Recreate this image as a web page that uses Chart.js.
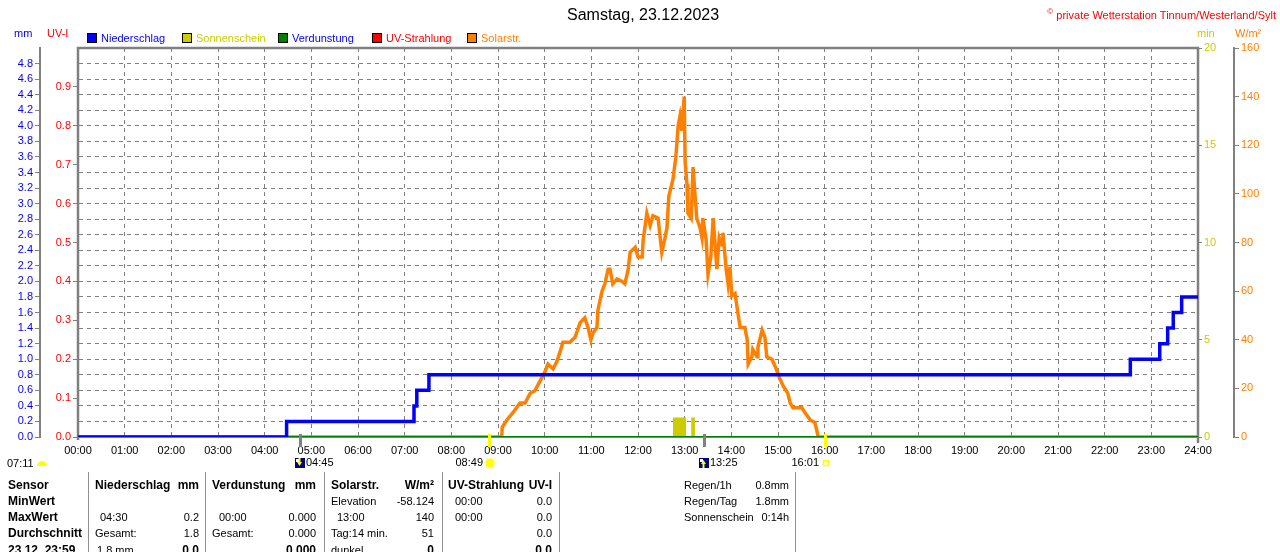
<!DOCTYPE html>
<html>
<head>
<meta charset="utf-8">
<title>Samstag, 23.12.2023</title>
<script src="https://cdn.jsdelivr.net/npm/chart.js@4.4.1/dist/chart.umd.min.js"></script>
<style>
  html, body { margin: 0; padding: 0; background: #fff; }
  #wrap { position: relative; width: 1280px; height: 552px; overflow: hidden;
          font-family: "Liberation Sans", Arial, sans-serif; font-size: 11px; color: #000; }
  #wrap canvas { position: absolute; left: 0; top: 0; }
  .t { position: absolute; white-space: nowrap; line-height: 12px; }
  .b { font-weight: bold; font-size: 12px; }
  .sep { position: absolute; top: 472px; height: 80px; width: 1px; background: #909090; }
  .box { position: absolute; top: 33px; width: 8px; height: 8px; border: 1px solid #000; }
</style>
</head>
<body>
<div id="wrap">
  <canvas id="chart" width="1280" height="552"></canvas>

  <div class="t" style="left:567px; top:6px; font-size:16px; line-height:18px;">Samstag, 23.12.2023</div>
  <div class="t" style="right:4px; top:6px; color:#ff0000;"><sup style="font-size:8px;">©</sup> private Wetterstation Tinnum/Westerland/Sylt</div>

  <div class="t" style="left:14px; top:27px; color:#0000ff;">mm</div>
  <div class="t" style="left:47px; top:27px; color:#ff0000;">UV-I</div>
  <div class="t" style="left:1197px; top:27px; color:#cccc00;">min</div>
  <div class="t" style="left:1235px; top:27px; color:#ff8000;">W/m²</div>

  <div class="box" style="left:87px; background:#0000ff;"></div>
  <div class="t" style="left:101px; top:32px; color:#0000ff;">Niederschlag</div>
  <div class="box" style="left:182px; background:#cccc00;"></div>
  <div class="t" style="left:196px; top:32px; color:#cccc00;">Sonnenschein</div>
  <div class="box" style="left:278px; background:#008000;"></div>
  <div class="t" style="left:292px; top:32px; color:#0000ff;">Verdunstung</div>
  <div class="box" style="left:372px; background:#ff0000;"></div>
  <div class="t" style="left:386px; top:32px; color:#ff0000;">UV-Strahlung</div>
  <div class="box" style="left:467px; background:#ff8000;"></div>
  <div class="t" style="left:481px; top:32px; color:#ff8000;">Solarstr.</div>

  <div class="t" style="left:7px; top:457px;">07:11</div>

  <div class="sep" style="left:88px;"></div>
  <div class="sep" style="left:205px;"></div>
  <div class="sep" style="left:324px;"></div>
  <div class="sep" style="left:442px;"></div>
  <div class="sep" style="left:559px;"></div>
  <div class="sep" style="left:795px;"></div>

  <!-- row 1 -->
  <div class="t b" style="left:8px; top:479px;">Sensor</div>
  <div class="t b" style="left:95px; top:479px;">Niederschlag</div>
  <div class="t b" style="right:1081px; top:479px;">mm</div>
  <div class="t b" style="left:212px; top:479px;">Verdunstung</div>
  <div class="t b" style="right:964px; top:479px;">mm</div>
  <div class="t b" style="left:331px; top:479px;">Solarstr.</div>
  <div class="t b" style="right:846px; top:479px;">W/m²</div>
  <div class="t b" style="left:448px; top:479px;">UV-Strahlung</div>
  <div class="t b" style="right:728px; top:479px;">UV-I</div>
  <div class="t" style="left:684px; top:479px;">Regen/1h</div>
  <div class="t" style="right:491px; top:479px;">0.8mm</div>
  <!-- row 2 -->
  <div class="t b" style="left:8px; top:495px;">MinWert</div>
  <div class="t" style="left:331px; top:495px;">Elevation</div>
  <div class="t" style="right:846px; top:495px;">-58.124</div>
  <div class="t" style="left:455px; top:495px;">00:00</div>
  <div class="t" style="right:728px; top:495px;">0.0</div>
  <div class="t" style="left:684px; top:495px;">Regen/Tag</div>
  <div class="t" style="right:491px; top:495px;">1.8mm</div>
  <!-- row 3 -->
  <div class="t b" style="left:8px; top:511px;">MaxWert</div>
  <div class="t" style="left:100px; top:511px;">04:30</div>
  <div class="t" style="right:1081px; top:511px;">0.2</div>
  <div class="t" style="left:219px; top:511px;">00:00</div>
  <div class="t" style="right:964px; top:511px;">0.000</div>
  <div class="t" style="left:337px; top:511px;">13:00</div>
  <div class="t" style="right:846px; top:511px;">140</div>
  <div class="t" style="left:455px; top:511px;">00:00</div>
  <div class="t" style="right:728px; top:511px;">0.0</div>
  <div class="t" style="left:684px; top:511px;">Sonnenschein</div>
  <div class="t" style="right:491px; top:511px;">0:14h</div>
  <!-- row 4 -->
  <div class="t b" style="left:8px; top:527px;">Durchschnitt</div>
  <div class="t" style="left:95px; top:527px;">Gesamt:</div>
  <div class="t" style="right:1081px; top:527px;">1.8</div>
  <div class="t" style="left:212px; top:527px;">Gesamt:</div>
  <div class="t" style="right:964px; top:527px;">0.000</div>
  <div class="t" style="left:331px; top:527px;">Tag:14 min.</div>
  <div class="t" style="right:846px; top:527px;">51</div>
  <div class="t" style="right:728px; top:527px;">0.0</div>
  <!-- row 5 -->
  <div class="t b" style="left:8px; top:544px;">23.12. 23:59</div>
  <div class="t" style="left:97px; top:544px;">1.8 mm</div>
  <div class="t b" style="right:1081px; top:544px;">0.0</div>
  <div class="t b" style="right:964px; top:544px;">0.000</div>
  <div class="t" style="left:331px; top:544px;">dunkel</div>
  <div class="t b" style="right:846px; top:544px;">0</div>
  <div class="t b" style="right:728px; top:544px;">0.0</div>
</div>

<script>
// hours of the day on the x axis
const hourLabels = ['00:00', '01:00', '02:00', '03:00', '04:00', '05:00', '06:00', '07:00', '08:00',
    '09:00', '10:00', '11:00', '12:00', '13:00', '14:00', '15:00', '16:00', '17:00', '18:00',
    '19:00', '20:00', '21:00', '22:00', '23:00', '24:00'];

// Niederschlag (cumulative mm), value holds from the given hour on
const rainTimes = [0, 4.47, 7.20, 7.26, 7.52, 22.55, 23.18, 23.35, 23.47, 23.65, 24];
const rainValues = [0, 0.2, 0.4, 0.6, 0.8, 1.0, 1.2, 1.4, 1.6, 1.8, 1.8];

// Sonnenschein (min)
const sunTimes = [0, 12.75, 13.03, 13.14, 13.22, 24];
const sunValues = [0, 1, 0, 1, 0, 0];

// Verdunstung (mm) and UV-Strahlung (UV-I)
const evapTimes = [0, 24];
const evapValues = [0, 0];
const uvTimes = [0, 24];
const uvValues = [0, 0];

// Solarstrahlung (W/m²)
const solarTimes = [
    0, 9.08, 9.09, 9.19, 9.32, 9.47, 9.58, 9.69, 9.79, 9.90,
    10.01, 10.07, 10.18, 10.26, 10.33, 10.39, 10.54, 10.65, 10.76, 10.86,
    10.93, 10.99, 11.04, 11.12, 11.14, 11.23, 11.29, 11.36, 11.40, 11.46,
    11.55, 11.66, 11.72, 11.79, 11.83, 11.94, 12.00, 12.09, 12.11, 12.19,
    12.26, 12.32, 12.43, 12.51, 12.58, 12.62, 12.66, 12.75, 12.81, 12.86,
    12.90, 12.94, 12.99, 13.01, 13.05, 13.07, 13.14, 13.18, 13.22, 13.26,
    13.33, 13.37, 13.39, 13.46, 13.50, 13.56, 13.61, 13.69, 13.74, 13.80,
    13.82, 13.89, 13.93, 13.97, 14.01, 14.08, 14.14, 14.19, 14.29, 14.34,
    14.36, 14.44, 14.46, 14.55, 14.57, 14.66, 14.72, 14.76, 14.87, 14.94,
    15.04, 15.11, 15.21, 15.26, 15.32, 15.51, 15.58, 15.69, 15.79, 15.84,
    15.86, 24];
const solarValues = [
    0, 0, 4, 7, 10, 14, 14, 18, 19, 23,
    27, 30, 28, 31, 35, 39, 39, 41, 47, 49,
    45, 40, 43, 45, 52, 60, 63, 69, 69, 63,
    65, 64, 63, 69, 76, 78, 74, 74, 81, 92,
    87, 91, 90, 76, 82, 86, 99, 106, 115, 128,
    132, 126, 140, 113, 104, 92, 90, 111, 100, 90,
    86, 82, 90, 81, 67, 74, 90, 69, 82, 79,
    84, 69, 63, 70, 58, 59, 51, 45, 45, 40,
    30, 33, 36, 33, 37, 44, 41, 33, 32, 29,
    24, 21, 18, 14, 12, 12, 10, 7, 6, 2,
    0, 0];

// sun / moon events below the time axis
const eventTimes = [4.75, 8.8167, 13.4167, 16.0167];
const eventLabels = ['04:45', '08:49', '13:25', '16:01'];
const eventKinds = ['moonset', 'sunrise', 'moonrise', 'sunset'];

const GRAY = '#808080';
const FONT = '"Liberation Sans", Arial, sans-serif';

function points(times, values) {
    return times.map((t, i) => ({ x: t, y: values[i] }));
}

function drawIcon(ctx, kind, x, y) {
    if (kind === 'moonset' || kind === 'moonrise') {
        ctx.fillStyle = '#000080';
        ctx.fillRect(x - 5, y - 5, 10, 10);
        ctx.fillStyle = '#ffffff';
        ctx.fillRect(x - 4, y - 4, 3, 3);
        ctx.fillStyle = '#ffff00';
        ctx.beginPath();
        if (kind === 'moonset') {
            ctx.moveTo(x - 3, y - 1); ctx.lineTo(x + 2, y - 1); ctx.lineTo(x - 0.5, y + 3);
            ctx.fill();
            ctx.fillRect(x - 1.5, y - 5, 2, 4);
        } else {
            ctx.moveTo(x - 3, y + 1); ctx.lineTo(x + 2, y + 1); ctx.lineTo(x - 0.5, y - 3);
            ctx.fill();
            ctx.fillRect(x - 1.5, y + 1, 2, 4);
        }
    } else if (kind === 'sunrise') {
        ctx.strokeStyle = '#ffff99';
        ctx.lineWidth = 1;
        for (let a = 0; a < 8; a++) {
            const ang = a * Math.PI / 4;
            ctx.beginPath();
            ctx.moveTo(x + Math.cos(ang) * 4, y + Math.sin(ang) * 4);
            ctx.lineTo(x + Math.cos(ang) * 7, y + Math.sin(ang) * 7);
            ctx.stroke();
        }
        ctx.fillStyle = '#ffff00';
        ctx.beginPath();
        ctx.arc(x, y, 4.5, 0, Math.PI * 2);
        ctx.fill();
    } else {
        ctx.strokeStyle = '#ffff00';
        ctx.lineWidth = 1.5;
        ctx.strokeRect(x - 2.5, y - 2.5, 5, 5);
    }
}

const framePlugin = {
    id: 'frame',
    beforeDatasetsDraw(chart) {
        const { ctx, chartArea: a } = chart;
        ctx.save();
        ctx.strokeStyle = GRAY;
        ctx.lineWidth = 2.5;
        ctx.beginPath();
        ctx.moveTo(a.left, a.bottom + 3);
        ctx.lineTo(a.left, a.top);
        ctx.lineTo(a.right, a.top);
        ctx.lineTo(a.right, a.bottom + 6);
        ctx.stroke();
        ctx.restore();
    },
    afterDraw(chart) {
        const { ctx, chartArea: a } = chart;
        const xs = chart.scales.x;
        ctx.save();
        ctx.font = '11px ' + FONT;
        ctx.textBaseline = 'middle';
        eventTimes.forEach((t, i) => {
            const x = Math.round(xs.getPixelForValue(t));
            const kind = eventKinds[i];
            const sun = kind === 'sunrise' || kind === 'sunset';
            ctx.fillStyle = sun ? '#ffff00' : GRAY;
            ctx.fillRect(x - 1, a.bottom - 3, 3, 13);
            const y = 463;
            ctx.fillStyle = '#000';
            if (sun) {
                ctx.textAlign = 'right';
                ctx.fillText(eventLabels[i], x - 6, y);
                drawIcon(ctx, kind, x + 1, y);
            } else {
                ctx.textAlign = 'left';
                ctx.fillText(eventLabels[i], x + 6, y);
                drawIcon(ctx, kind, x, y);
            }
        });
        // day length icon
        ctx.fillStyle = '#ffff00';
        ctx.beginPath();
        ctx.arc(42, 466, 5, Math.PI, 0);
        ctx.fill();
        ctx.restore();
    }
};

const ctx = document.getElementById('chart').getContext('2d');

new Chart(ctx, {
    type: 'line',
    data: {
        datasets: [
            {
                label: 'Niederschlag',
                data: points(rainTimes, rainValues),
                yAxisID: 'yMm',
                borderColor: '#0000ff',
                borderWidth: 3.5,
                stepped: 'before',
                pointRadius: 0,
                fill: false,
                order: 1
            },
            {
                label: 'Verdunstung',
                data: points(evapTimes, evapValues),
                yAxisID: 'yMm',
                borderColor: '#008000',
                borderWidth: 2,
                pointRadius: 0,
                fill: false,
                order: 2
            },
            {
                label: 'Sonnenschein',
                data: points(sunTimes, sunValues),
                yAxisID: 'yMin',
                borderColor: 'rgba(0,0,0,0)',
                borderWidth: 0,
                backgroundColor: '#cccc00',
                stepped: 'before',
                pointRadius: 0,
                fill: 'origin',
                order: 3
            },
            {
                label: 'UV-Strahlung',
                data: points(uvTimes, uvValues),
                yAxisID: 'yUv',
                borderColor: '#ff0000',
                borderWidth: 2,
                pointRadius: 0,
                fill: false,
                order: 4
            },
            {
                label: 'Solarstr.',
                data: points(solarTimes, solarValues),
                yAxisID: 'yW',
                borderColor: '#ff8000',
                borderWidth: 3.5,
                pointRadius: 0,
                fill: false,
                order: 5
            }
        ]
    },
    options: {
        responsive: false,
        animation: false,
        layout: { padding: { top: 48, bottom: 85, left: 0, right: 0 } },
        plugins: {
            legend: { display: false },
            title: { display: false },
            tooltip: { enabled: false }
        },
        scales: {
            x: {
                type: 'linear',
                min: 0,
                max: 24,
                afterFit: s => { s.height = 30; },
                ticks: {
                    stepSize: 1,
                    autoSkip: false,
                    maxRotation: 0,
                    padding: 7,
                    color: '#000',
                    font: { family: FONT, size: 11 },
                    callback: v => hourLabels[Math.round(v)]
                },
                grid: { color: GRAY, lineWidth: 1, drawTicks: false },
                border: { color: GRAY, width: 2, dash: [4, 4] }
            },
            yMm: {
                type: 'linear',
                axis: 'y',
                position: 'left',
                weight: 1,
                min: 0,
                max: 5,
                afterFit: s => { s.width = 40; },
                ticks: {
                    stepSize: 0.2,
                    autoSkip: false,
                    padding: 2,
                    color: '#0000ff',
                    font: { family: FONT, size: 11 },
                    callback: v => v > 4.9 ? '' : v.toFixed(1)
                },
                grid: {
                    color: GRAY,
                    lineWidth: 1,
                    tickLength: 5,
                    tickColor: c => (c.tick && c.tick.value > 4.9) ? 'rgba(0,0,0,0)' : GRAY
                },
                border: { color: GRAY, width: 2, dash: [4, 4] }
            },
            yUv: {
                type: 'linear',
                axis: 'y',
                position: 'left',
                weight: 0,
                min: 0,
                max: 1,
                afterFit: s => { s.width = 38; },
                ticks: {
                    stepSize: 0.1,
                    autoSkip: false,
                    padding: 2,
                    color: '#ff0000',
                    font: { family: FONT, size: 11 },
                    callback: v => v > 0.95 ? '' : v.toFixed(1)
                },
                grid: {
                    drawOnChartArea: false,
                    tickLength: 5,
                    tickColor: c => (c.tick && c.tick.value > 0.95) ? 'rgba(0,0,0,0)' : GRAY
                },
                border: { color: GRAY, width: 2 }
            },
            yMin: {
                type: 'linear',
                axis: 'y',
                position: 'right',
                weight: 0,
                min: 0,
                max: 20,
                afterFit: s => { s.width = 36; },
                ticks: {
                    stepSize: 5,
                    padding: 2,
                    color: '#cccc00',
                    font: { family: FONT, size: 11 }
                },
                grid: { drawOnChartArea: false, tickLength: 4, tickColor: GRAY },
                border: { color: GRAY, width: 2 }
            },
            yW: {
                type: 'linear',
                axis: 'y',
                position: 'right',
                weight: 1,
                min: 0,
                max: 160,
                afterFit: s => { s.width = 46; },
                ticks: {
                    stepSize: 20,
                    padding: 2,
                    color: '#ff8000',
                    font: { family: FONT, size: 11 }
                },
                grid: { drawOnChartArea: false, tickLength: 5, tickColor: GRAY },
                border: { color: GRAY, width: 2 }
            }
        }
    },
    plugins: [framePlugin]
});
</script>
</body>
</html>
